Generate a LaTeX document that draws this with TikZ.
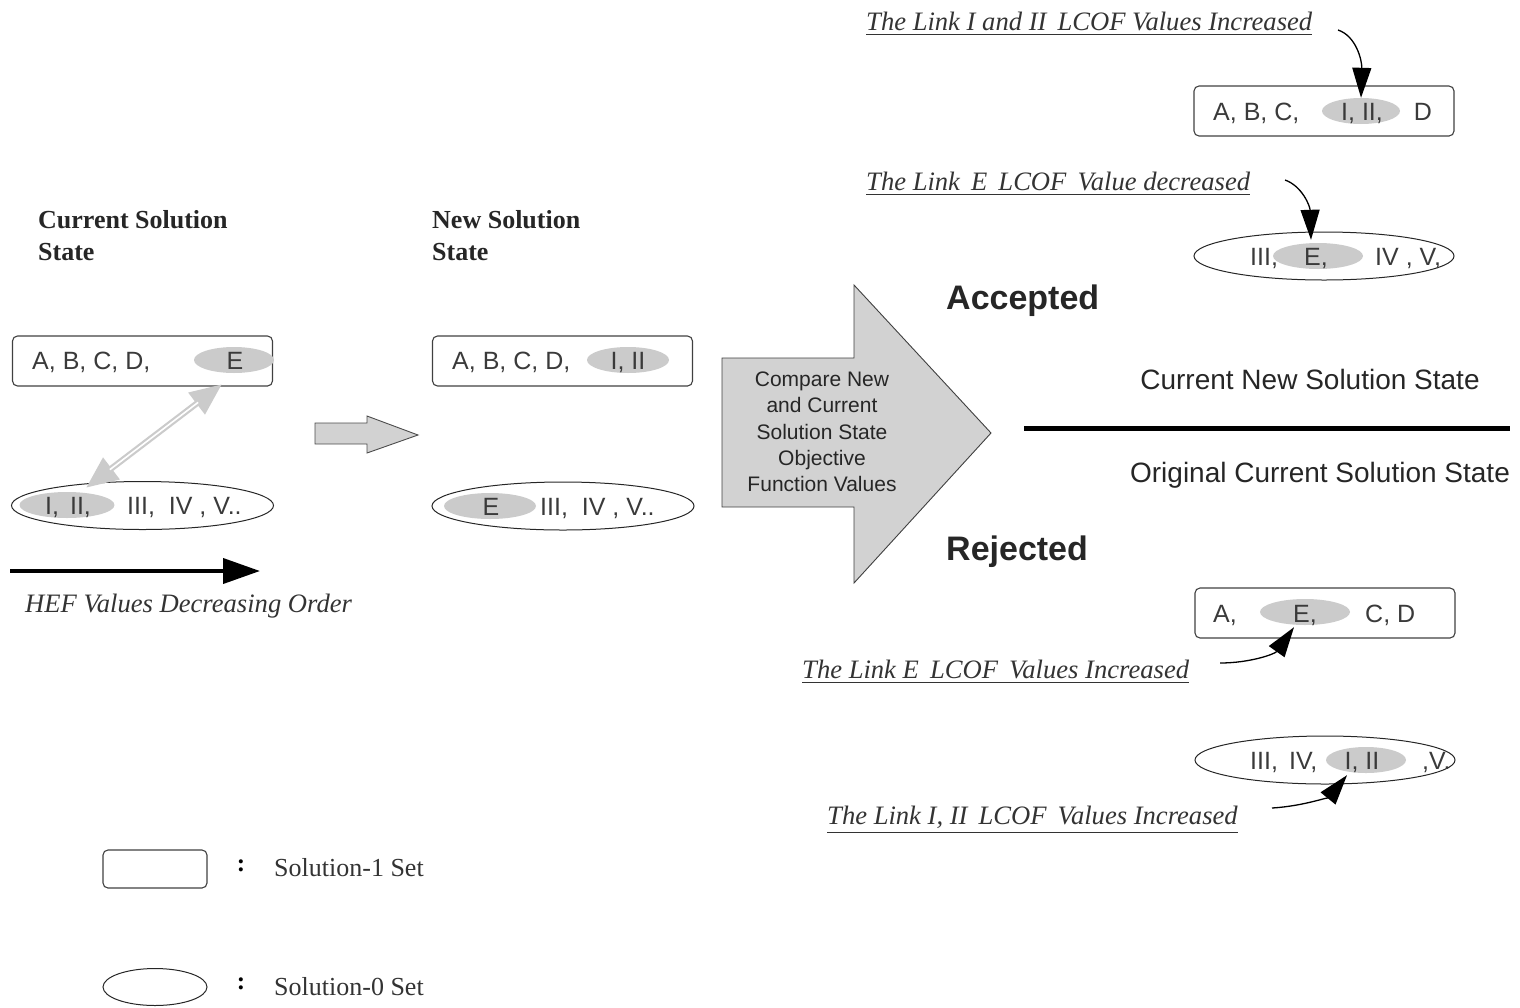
\documentclass[tikz,border=0pt]{standalone}
\usepackage{fontspec}
\setmainfont{Liberation Serif}
\setsansfont{Liberation Sans}
\usetikzlibrary{arrows.meta,calc,shapes.geometric}
\definecolor{hlgray}{HTML}{CBCBCB}
\definecolor{blockgray}{HTML}{D2D2D2}
\definecolor{txtgray}{HTML}{3A3A3A}
\begin{document}
\begin{tikzpicture}[x=1pt,y=-1pt,
  setbox/.style={draw=black!75, line width=1.1pt, rounded corners=5pt, minimum width=260pt, minimum height=50pt, inner sep=0pt},
  setell/.style={draw=black!85, line width=1pt, ellipse, minimum width=262pt, minimum height=48pt, inner sep=0pt},
  hl/.style={fill=hlgray, ellipse, minimum height=26pt, inner sep=0pt},
  item/.style={font=\sffamily\fontsize{25}{25}\selectfont, text=txtgray, inner sep=0pt},
  head/.style={font=\bfseries\fontsize{26}{32}\selectfont, text=black!85, inner sep=0pt},
  note/.style={font=\itshape\fontsize{26.6}{26.6}\selectfont, text=black!80, inner sep=0pt},
  verdict/.style={font=\sffamily\bfseries\fontsize{34}{34}\selectfont, text=black!85, inner sep=0pt},
  statetxt/.style={font=\sffamily\fontsize{28}{28}\selectfont, text=black!85, inner sep=0pt},
  pointer/.style={draw=black, line width=1.3pt, -{Triangle[length=30pt,width=19pt]}},
  legendtxt/.style={font=\fontsize{26}{26}\selectfont, text=black!80, inner sep=0pt}
]
\useasboundingbox (0,0) rectangle (1520,1007);

% ---------- Current solution state ----------
\node[head, anchor=base west] (curhead) at (38,228) {Current Solution};
\node[head, anchor=base west] (curhead2) at (38,260) {State};
\node[setbox] (cur1) at (142.5,361) {};
\node[hl, minimum width=80pt] (hlE) at (234,360) {};
\node[item, anchor=base west] at (32,369) {A, B, C, D,};
\node[item, anchor=base] at (235,369) {E};

\node[setell] (cur0) at (142.5,505.5) {};
\node[hl, minimum width=95pt] (hlI) at (67,505) {};
\node[item, anchor=base] at (68,514) {I,\, II,};
\node[item, anchor=base west] at (127,514) {III,\ \ IV , V..};

% exchange between the two sets
\coordinate (swapA) at ($(hlI.north)+(19,-4)$);
\coordinate (swapB) at ($(hlE.south)+(-12,11)$);
\draw[draw=hlgray, line width=6pt, {Triangle[length=32pt,width=26pt]}-{Triangle[length=32pt,width=26pt]}] (swapA) -- (swapB);
\draw[white, line width=1.6pt, shorten <=30pt, shorten >=30pt] (swapA) -- (swapB);

% ordering arrow
\coordinate (ordA) at (10,571);
\coordinate (ordB) at (260,571);
\draw[line width=4pt, -{Triangle[length=37pt,width=25pt]}] (ordA) -- (ordB);
\node[note, anchor=base west] (ordtxt) at (25,612) {HEF Values Decreasing Order};

% small block arrow
\draw[fill=blockgray, draw=black!70, line width=0.9pt]
  (315,423) -- (367,423) -- (367,416) -- (418,435) -- (367,453) -- (367,444) -- (315,444) -- cycle;

% ---------- New solution state ----------
\node[head, anchor=base west] (newhead) at (432,228) {New Solution};
\node[head, anchor=base west] (newhead2) at (432,260) {State};
\node[setbox] (new1) at (562.5,361) {};
\node[hl, minimum width=82pt] (hlII) at (628,360) {};
\node[item, anchor=base west] at (452,369) {A, B, C, D,};
\node[item, anchor=base] at (628,369) {I, II};

\node[setell] (new0) at (563,506) {};
\node[hl, minimum width=92pt] (hlE2) at (490,506) {};
\node[item, anchor=base] at (491,515) {E};
\node[item, anchor=base west] at (540,515) {III,\ \ IV , V..};

% ---------- comparison ----------
\draw[fill=blockgray, draw=black!75, line width=0.9pt]
  (722,358) -- (854,358) -- (854,285) -- (991,433) -- (854,583) -- (854,507) -- (722,507) -- cycle;
\node[font=\sffamily\fontsize{21}{26.3}\selectfont, text=black!85, align=center, inner sep=0pt] (cmp) at (822,432)
  {Compare New\\and Current\\Solution State\\Objective\\Function Values};

\node[verdict, anchor=base west] (acc) at (946,309) {Accepted};
\node[verdict, anchor=base west] (rej) at (946,560) {Rejected};
\node[statetxt, anchor=base] (nstate) at (1310,389) {Current New Solution State};
\node[statetxt, anchor=base] (ostate) at (1320,482) {Original Current Solution State};
\coordinate (barL) at (1024,428);
\coordinate (barR) at (1510,428);
\draw[line width=5pt] (barL) -- (barR);

% ---------- accepted outcome ----------
\node[note, anchor=base west, inner sep=0pt] (n1) at (866,30) {The Link I and II\, LCOF Values Increased};
\draw[line width=0.8pt, black!80] ($(n1.south west)+(0,4)$) -- ($(n1.south east)+(0,4)$);
\node[setbox] (a1) at (1324,111) {};
\node[hl, minimum width=78pt] (hlA1) at (1361,111) {};
\node[item, anchor=base west] at (1213,120) {A, B, C,};
\node[item, anchor=base] at (1362,120) {I, II,};
\node[item, anchor=base] at (1423,120) {D};
\coordinate (p1) at (1338,30);
\draw[pointer] (p1) .. controls (1356,36) and (1362,60) .. (hlA1.north);

\node[note, anchor=base west] (n2) at (866,190) {The Link\, E\, LCOF\, Value decreased};
\draw[line width=0.8pt, black!80] ($(n2.south west)+(0,4)$) -- ($(n2.south east)+(0,4)$);
\node[setell, minimum width=260pt] (a0) at (1324,256) {};
\node[hl, minimum width=90pt] (hlA0) at (1318,256) {};
\node[item, anchor=base west] at (1250,265) {III,};
\node[item, anchor=base] at (1316,265) {E,};
\node[item, anchor=base west] at (1375,265) {IV , V,};
\coordinate (p2) at (1285,180);
\draw[pointer] (p2) .. controls (1302,186) and (1310,206) .. ($(hlA0.north)+(-7,-3)$);

% ---------- rejected outcome ----------
\node[setbox] (r1) at (1325,613) {};
\node[hl, minimum width=90pt] (hlR1) at (1305,612) {};
\node[item, anchor=base west] at (1213,622) {A,};
\node[item, anchor=base] at (1305,622) {E,};
\node[item, anchor=base west] at (1365,622) {C, D};
\node[note, anchor=base west] (n3) at (802,678) {The Link E\, LCOF\, Values Increased};
\draw[line width=0.8pt, black!80] ($(n3.south west)+(0,4)$) -- ($(n3.south east)+(0,4)$);
\coordinate (p3) at (1220,663);
\draw[pointer] (p3) .. controls (1250,663) and (1275,654) .. ($(hlR1.south)+(-11,2)$);

\node[setell, minimum width=260pt] (r0) at (1325,760) {};
\node[hl, minimum width=80pt] (hlR0) at (1366,760) {};
\node[item, anchor=base west] at (1250,769) {III,\, IV,};
\node[item, anchor=base] at (1362,769) {I, II};
\node[item, anchor=base west] at (1422,769) {,V.};
\node[note, anchor=base west] (n4) at (827,824) {The Link I, II\, LCOF\, Values Increased};
\draw[line width=0.8pt, black!80] ($(n4.south west)+(0,4)$) -- ($(n4.south east)+(0,4)$);
\coordinate (p4) at (1272,808);
\draw[pointer] (p4) .. controls (1305,806) and (1330,796) .. ($(hlR0.south)+(-19,2)$);

% ---------- legend ----------
\node[draw=black!75, line width=1.1pt, rounded corners=5pt, minimum width=104pt, minimum height=38pt, inner sep=0pt] (leg1) at (155,869) {};
\node[font=\bfseries\fontsize{25}{25}\selectfont, inner sep=0pt] (c1) at (241,866) {:};
\node[legendtxt, anchor=base west] (l1) at (274,876) {Solution-1 Set};
\node[draw=black!85, line width=1pt, ellipse, minimum width=104pt, minimum height=37pt, inner sep=0pt] (leg0) at (155,987) {};
\node[font=\bfseries\fontsize{25}{25}\selectfont, inner sep=0pt] (c0) at (241,984) {:};
\node[legendtxt, anchor=base west] (l0) at (274,995) {Solution-0 Set};
\end{tikzpicture}
\end{document}
